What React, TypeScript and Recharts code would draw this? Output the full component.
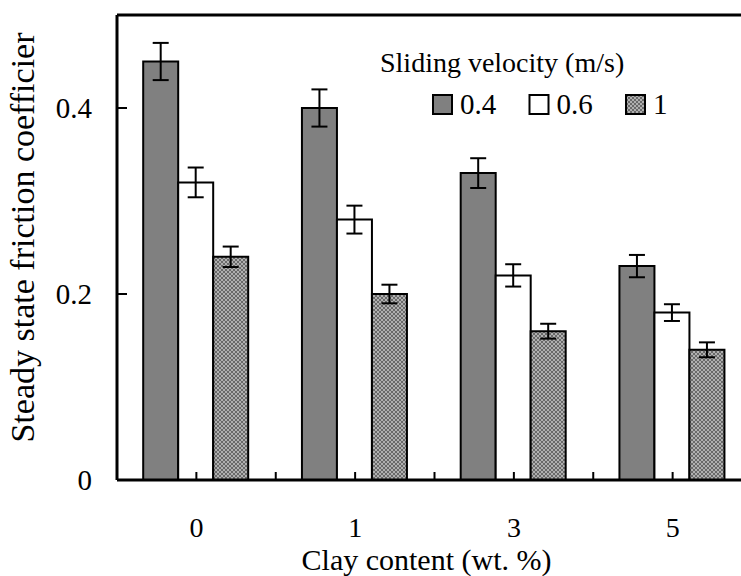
import React from 'react';
import { Bar, BarChart, ErrorBar, Label, ReferenceLine, XAxis, YAxis } from 'recharts';

const categories = ['0', '1', '3', '5'];
const series = ['0.4', '0.6', '1'];
const v04 = [0.45, 0.4, 0.33, 0.23];
const e04 = [0.02, 0.02, 0.016, 0.012];
const v06 = [0.32, 0.28, 0.22, 0.18];
const e06 = [0.016, 0.015, 0.012, 0.009];
const v1 = [0.24, 0.2, 0.16, 0.14];
const e1 = [0.011, 0.01, 0.008, 0.008];
const yTicks = [0, 0.2, 0.4];

const data = categories.map((c, i) => ({
  clay: c,
  v04: v04[i],
  e04: e04[i],
  v06: v06[i],
  e06: e06[i],
  v1: v1[i],
  e1: e1[i],
}));

const FONT = 'Liberation Serif, DejaVu Serif, serif';
const CHART_W = 760;
const CHART_H = 576;
const Y_AXIS_W = 117;
const RIGHT = 8;
const BAND = (CHART_W - Y_AXIS_W - RIGHT) / categories.length;
const DARK = '#808080';

const fills = [DARK, '#ffffff', 'url(#dither)'];

// fine cross-hatch used for the 1 m/s bars
const Dither = () => (
  <pattern id="dither" width="4" height="4" patternUnits="userSpaceOnUse">
    <rect width="4" height="4" fill="#b0b0b0" />
    {[0, 1, 2, 3].map((k) => (
      <React.Fragment key={k}>
        <rect x={k} y={k} width="1" height="1" fill="#6a6a6a" />
        <rect x={3 - k} y={k} width="1" height="1" fill="#6a6a6a" />
      </React.Fragment>
    ))}
  </pattern>
);

const YTick = (props: any) => {
  const { x, y, payload } = props;
  const axisX = x + 25;
  return (
    <g>
      <text x={x} y={y} textAnchor="end" dominantBaseline="central" style={{ fontFamily: FONT }} fontSize={29} fill="#000">
        {payload.value === 0 ? '0' : payload.value.toFixed(1)}
      </text>
      {payload.value !== 0 && <line x1={axisX} x2={axisX + 10} y1={y} y2={y} stroke="#000" strokeWidth={2} />}
    </g>
  );
};

const XTick = (props: any) => {
  const { x, y, payload } = props;
  const edge = x + BAND / 2;
  return (
    <g>
      <line x1={x} x2={x} y1={y} y2={y - 8} stroke="#000" strokeWidth={2} />
      <line x1={edge} x2={edge} y1={y} y2={y - 8} stroke="#000" strokeWidth={2} />
      <text x={x} y={y + 57} textAnchor="middle" style={{ fontFamily: FONT }} fontSize={28} fill="#000">
        {payload.value}
      </text>
    </g>
  );
};

const LegendBox = () => (
  <svg width={330} height={90} style={{ position: 'absolute', left: 375, top: 40 }}>
    <defs>
      <Dither />
    </defs>
    <text x={5} y={32} style={{ fontFamily: FONT }} fontSize={28} fill="#000">
      Sliding velocity (m/s)
    </text>
    {series.map((s, i) => {
      const x0 = 58 + i * 96.5;
      return (
        <g key={s}>
          <rect x={x0} y={55} width={19} height={19} fill={fills[i]} stroke="#000" strokeWidth={2} />
          <text x={x0 + 27} y={74} style={{ fontFamily: FONT }} fontSize={29} fill="#000">
            {s}
          </text>
        </g>
      );
    })}
  </svg>
);

export default function App() {
  return (
    <div
      style={{
        position: 'absolute',
        left: 0,
        top: 0,
        width: 741,
        height: 576,
        overflow: 'hidden',
        background: '#fff',
      }}
    >
      <BarChart
        width={CHART_W}
        height={CHART_H}
        data={data}
        margin={{ top: 15, right: RIGHT, left: 0, bottom: 0 }}
        barCategoryGap="16.5%"
        barGap={0}
      >
        <defs>
          <Dither />
        </defs>
        <ReferenceLine y={0.5} stroke="#000" strokeWidth={3} />
        <Bar dataKey="v04" fill={fills[0]} stroke="#000" strokeWidth={2} isAnimationActive={false}>
          <ErrorBar dataKey="e04" width={8} stroke="#000" strokeWidth={2} direction="y" isAnimationActive={false} />
        </Bar>
        <Bar dataKey="v06" fill={fills[1]} stroke="#000" strokeWidth={2} isAnimationActive={false}>
          <ErrorBar dataKey="e06" width={8} stroke="#000" strokeWidth={2} direction="y" isAnimationActive={false} />
        </Bar>
        <Bar dataKey="v1" fill={fills[2]} stroke="#000" strokeWidth={2} isAnimationActive={false}>
          <ErrorBar dataKey="e1" width={8} stroke="#000" strokeWidth={2} direction="y" isAnimationActive={false} />
        </Bar>
        <XAxis
          dataKey="clay"
          height={96}
          axisLine={{ stroke: '#000', strokeWidth: 3 }}
          tickLine={false}
          tickSize={0}
          tickMargin={0}
          tick={<XTick />}
          interval={0}
        >
          <Label
            content={({ viewBox }: any) => (
              <text
                x={viewBox.x + viewBox.width / 2 - 8}
                y={viewBox.y + 90}
                textAnchor="middle"
                style={{ fontFamily: FONT }}
                fontSize={30}
                fill="#000"
              >
                Clay content (wt. %)
              </text>
            )}
          />
        </XAxis>
        <YAxis
          width={Y_AXIS_W}
          domain={[0, 0.5]}
          ticks={yTicks}
          axisLine={{ stroke: '#000', strokeWidth: 3 }}
          tickLine={false}
          tickSize={0}
          tickMargin={25}
          tick={<YTick />}
        >
          <Label
            content={({ viewBox }: any) => (
              <text
                x={22}
                y={viewBox.y + viewBox.height / 2 - 10}
                transform={`rotate(-90, 22, ${viewBox.y + viewBox.height / 2 - 10})`}
                textAnchor="middle"
                dominantBaseline="central"
                style={{ fontFamily: FONT }}
                fontSize={34}
                fill="#000"
              >
                Steady state friction coefficier
              </text>
            )}
          />
        </YAxis>
      </BarChart>
      <LegendBox />
    </div>
  );
}
